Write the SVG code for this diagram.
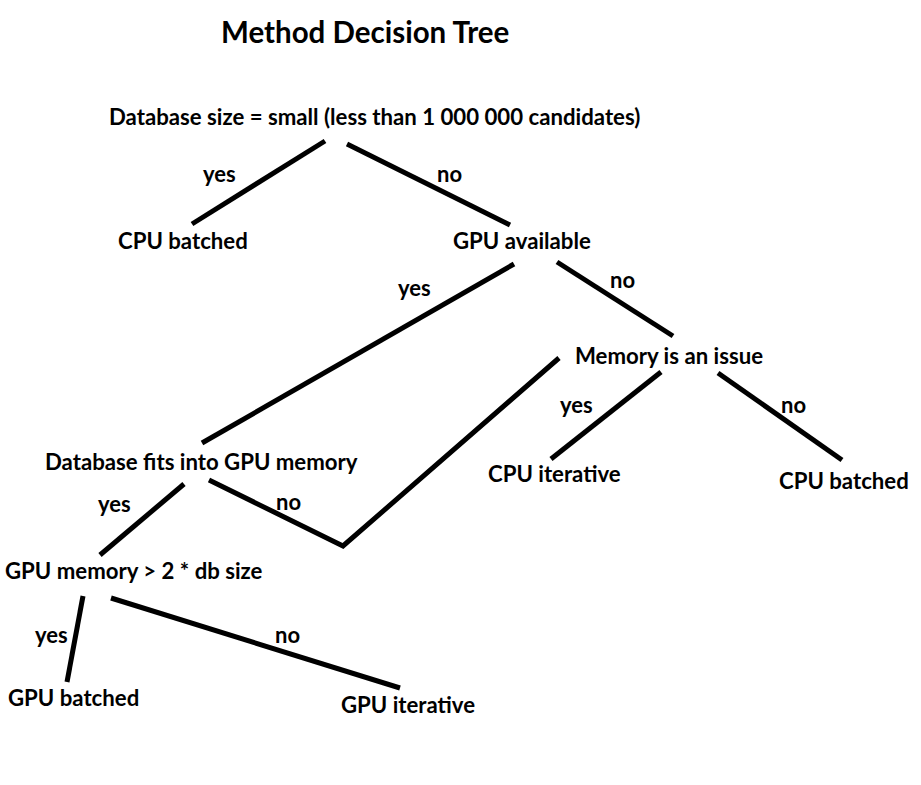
<svg xmlns="http://www.w3.org/2000/svg" width="921" height="785" viewBox="0 0 921 785">
<style>
text{font-family:Lato,"Open Sans","Liberation Sans",sans-serif;font-weight:bold;fill:#000;}
.n{font-size:22.2px;}
.l{font-size:22px;}
.t{font-size:29.5px;}
#connectors line{stroke:#000;stroke-width:5;stroke-linecap:butt;fill:none;}
#connectors polyline{stroke:#000;stroke-width:5;fill:none;stroke-linejoin:miter;}
</style>
<rect width="921" height="785" fill="#fff"/>
<text class="t" x="221" y="43">Method Decision Tree</text>
<g id="connectors">
<line x1="325" y1="141" x2="192" y2="224"/>
<line x1="347" y1="144" x2="510" y2="225"/>
<line x1="514" y1="264" x2="202" y2="443"/>
<line x1="557" y1="262" x2="673" y2="336"/>
<line x1="661" y1="372" x2="551" y2="459"/>
<line x1="718" y1="373" x2="842" y2="460"/>
<polyline points="209,480 343,546 559,358"/>
<line x1="184" y1="484" x2="100" y2="555"/>
<line x1="83" y1="596" x2="67" y2="682"/>
<line x1="111" y1="598" x2="400" y2="688"/>
<text class="l" x="203" y="182">yes</text>
<text class="l" x="437" y="182">no</text>
<text class="l" x="398" y="296">yes</text>
<text class="l" x="610" y="288">no</text>
<text class="l" x="560" y="413">yes</text>
<text class="l" x="781" y="413">no</text>
<text class="l" x="276" y="510">no</text>
<text class="l" x="98" y="512">yes</text>
<text class="l" x="35" y="643">yes</text>
<text class="l" x="275" y="643">no</text>
</g>
<g id="root"><text class="n" x="109" y="125">Database size = small (less than 1 000 000 candidates)</text></g>
<g id="cpu-batched-1"><text class="n" x="118" y="249">CPU batched</text></g>
<g id="gpu-available"><text class="n" x="453" y="249">GPU available</text></g>
<g id="memory-issue"><text class="n" x="575" y="364">Memory is an issue</text></g>
<g id="cpu-iterative"><text class="n" x="488" y="482">CPU iterative</text></g>
<g id="cpu-batched-2"><text class="n" x="779" y="489">CPU batched</text></g>
<g id="db-fits"><text class="n" x="45" y="470">Database fits into GPU memory</text></g>
<g id="gpu-mem"><text class="n" x="5" y="579">GPU memory &gt; 2 * db size</text></g>
<g id="gpu-batched"><text class="n" x="8" y="706">GPU batched</text></g>
<g id="gpu-iterative"><text class="n" x="341" y="713">GPU iterative</text></g>
</svg>
